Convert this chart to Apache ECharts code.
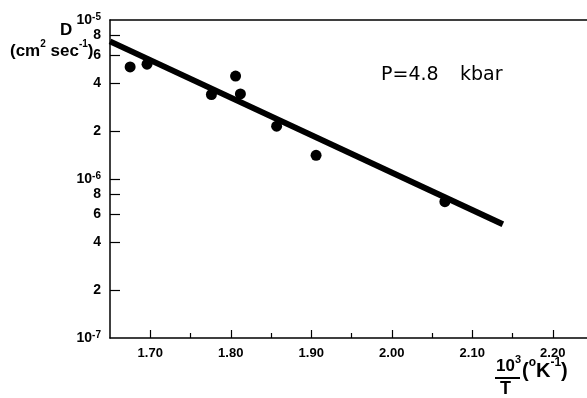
<!DOCTYPE html>
<html>
<head>
<meta charset="utf-8">
<script src="https://cdn.jsdelivr.net/npm/echarts@6/dist/echarts.min.js"></script>
<style>
  html, body { margin: 0; padding: 0; background: #fff; }
  #chart { width: 587px; height: 398px; }
</style>
</head>
<body>
<div id="chart"></div>
<script>
// measured points: 10^3/T (1/K) vs D (cm^2/sec), P = 4.8 kbar
const invT = [1.675, 1.696, 1.776, 1.806, 1.812, 1.857, 1.906, 2.066]
const diffD = [5.07e-6, 5.27e-6, 3.40e-6, 4.44e-6, 3.43e-6, 2.15e-6, 1.41e-6, 7.2e-7]

// fitted line end points
const fitT = [1.65, 2.138]
const fitD = [7.34e-6, 5.2e-7]

const xMajorTicks = [1.7, 1.8, 1.9, 2.0, 2.1, 2.2]
const xMinorTicks = [1.75, 1.85, 1.95, 2.05, 2.15]
const yTickValues = [1e-7, 2e-7, 4e-7, 6e-7, 8e-7, 1e-6, 2e-6, 4e-6, 6e-6, 8e-6, 1e-5]
const yTickLabels = ['10{s|-7}', '2', '4', '6', '8', '10{s|-6}', '2', '4', '6', '8', '10{s|-5}']

const ink = '#000'
const font = 'Liberation Sans, Arial, sans-serif'

function yLabel(v) {
  for (let i = 0; i < yTickValues.length; i++) {
    if (Math.abs(v - yTickValues[i]) / yTickValues[i] < 1e-3) return yTickLabels[i]
  }
  return ''
}

// superscript style for rich text
const sup = (size) => ({ fontSize: size, fontFamily: font, fontWeight: 'bold', color: ink, verticalAlign: 'top' })

const chart = echarts.init(document.getElementById('chart'))
chart.setOption({
  animation: false,
  grid: { left: 110, top: 20, width: 483, bottom: 60, outerBoundsMode: 'none', containLabel: false },
  xAxis: [
    {
      type: 'value', min: 1.65, max: 2.25, position: 'bottom',
      axisLine: { lineStyle: { color: ink, width: 1.5 } },
      axisTick: { inside: true, length: 8, customValues: xMajorTicks, lineStyle: { color: ink, width: 1.2 } },
      axisLabel: {
        customValues: xMajorTicks, margin: 9, color: ink, fontSize: 13, fontWeight: 'bold', fontFamily: font,
        formatter: v => v.toFixed(2)
      },
      splitLine: { show: false }
    },
    {
      type: 'value', min: 1.65, max: 2.25, position: 'bottom',
      axisLine: { show: false },
      axisTick: { inside: true, length: 5, customValues: xMinorTicks, lineStyle: { color: ink, width: 1.2 } },
      axisLabel: { show: false },
      splitLine: { show: false }
    },
    {
      type: 'value', min: 1.65, max: 2.25, position: 'top',
      axisLine: { lineStyle: { color: ink, width: 1.5 } },
      axisTick: { show: false },
      axisLabel: { show: false },
      splitLine: { show: false }
    }
  ],
  yAxis: {
    type: 'log', logBase: 10, min: 1e-7, max: 1.00001e-5,
    axisLine: { lineStyle: { color: ink, width: 1.5 } },
    axisTick: { inside: true, length: 10, customValues: yTickValues.slice(1, -1), lineStyle: { color: ink, width: 1.2 } },
    axisLabel: {
      customValues: yTickValues, margin: 9, color: ink, fontSize: 14, fontWeight: 'bold', fontFamily: font,
      lineHeight: 15, hideOverlap: false, showMaxLabel: true, showMinLabel: true,
      formatter: v => yLabel(v),
      rich: { s: sup(10) }
    },
    minorTick: { show: false },
    splitLine: { show: false }
  },
  series: [
    {
      type: 'line',
      data: fitT.map((t, i) => [t, fitD[i]]),
      symbol: 'none',
      lineStyle: { color: ink, width: 6, cap: 'butt' },
      z: 2
    },
    {
      type: 'scatter',
      data: invT.map((t, i) => [t, diffD[i]]),
      symbol: 'circle',
      symbolSize: 11,
      itemStyle: { color: ink, opacity: 1 },
      z: 3
    }
  ],
  graphic: [
    { type: 'text', left: 60, top: 22, style: { text: 'D', font: 'bold 17px ' + font, fill: ink } },
    {
      type: 'text', left: 10, top: 39,
      style: {
        text: '(cm{s|2} sec{s|-1})', font: 'bold 17px ' + font, fill: ink, lineHeight: 24,
        rich: { s: sup(10) }
      }
    },
    { type: 'text', left: 381, top: 66, style: { text: 'P=4.8', font: '19px DejaVu Sans', fill: ink } },
    { type: 'text', left: 460, top: 66, style: { text: 'kbar', font: '19px DejaVu Sans', fill: ink } },
    // x axis name drawn as a fraction
    {
      type: 'text', left: 496, top: 354,
      style: { text: '10{s|3}', font: 'bold 17px ' + font, fill: ink, lineHeight: 24, rich: { s: sup(11) } }
    },
    { type: 'line', shape: { x1: 495, y1: 378, x2: 520, y2: 378 }, style: { stroke: ink, lineWidth: 2 } },
    { type: 'text', left: 500, top: 380, style: { text: 'T', font: 'bold 18px ' + font, fill: ink } },
    {
      type: 'text', left: 522, top: 357,
      style: { text: '({s|o}K{s|-1})', font: 'bold 20px ' + font, fill: ink, lineHeight: 28, rich: { s: sup(12) } }
    }
  ]
})
</script>
</body>
</html>
